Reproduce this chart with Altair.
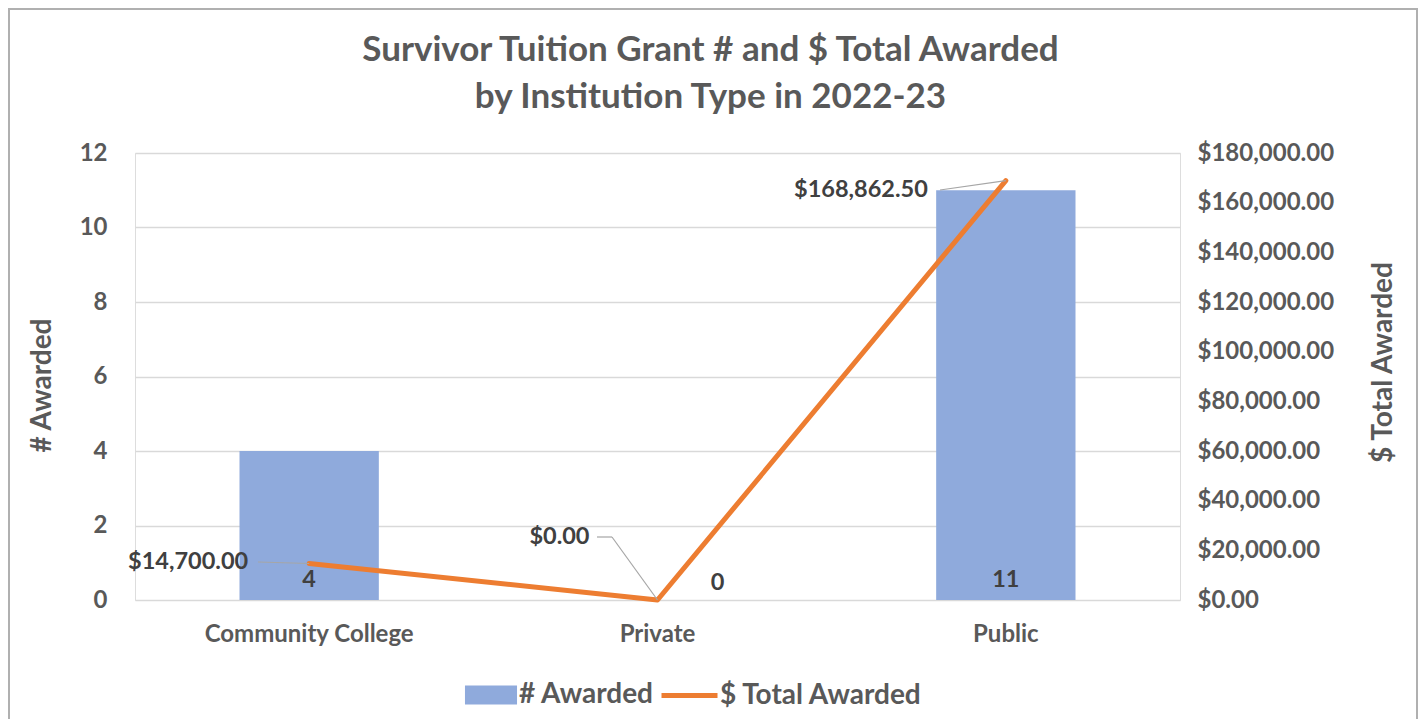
import altair as alt
import pandas as pd

categories = ["Community College", "Private", "Public"]
counts = [4, 0, 11]
totals = [14700.0, 0.0, 168862.5]
count_ticks = [0, 2, 4, 6, 8, 10, 12]
total_ticks = [0, 20000, 40000, 60000, 80000, 100000, 120000, 140000, 160000, 180000]

df = pd.DataFrame({"category": categories, "count": counts, "total": totals})

FONT = "Lato"
GREY = "#595959"
DARK = "#404040"
BAR = "#8FAADC"
LINE = "#ED7D31"
W, H = 1045, 447
TICK_FS = 24
LAB_FS = 23.5

xscale = alt.Scale(paddingInner=0.6, paddingOuter=0.3)
xenc = alt.X("category:N", sort=categories, scale=xscale,
             axis=alt.Axis(title=None, labelFontSize=TICK_FS, labelFont=FONT, labelFontWeight="bold",
                           labelColor=GREY, labelPadding=22, ticks=False, domain=False, labelAngle=0,
                           labelLimit=0))
xplain = alt.X("category:N", sort=categories, scale=xscale, title=None)

yscale_l = alt.Scale(domain=[0, 12])
yscale_r = alt.Scale(domain=[0, 180000])

base = alt.Chart(df)

bars = base.mark_bar(color=BAR).encode(
    x=xenc,
    y=alt.Y("count:Q", scale=yscale_l,
            axis=alt.Axis(title="# Awarded", values=count_ticks, labelFontSize=TICK_FS, labelFont=FONT,
                          labelFontWeight="bold", labelColor=GREY, labelPadding=28, ticks=False,
                          domain=False, gridColor="#D9D9D9", gridWidth=1.5,
                          titleFontSize=28, titleFont=FONT, titleFontWeight="bold", titleColor=GREY,
                          titleAngle=270, titleX=-93, titleY=232, titleBaseline="middle")),
    color=alt.Color("series:N", scale=alt.Scale(domain=["# Awarded"], range=[BAR]),
                    legend=alt.Legend(title=None, orient="none", legendX=337, legendY=523,
                                      symbolType="M-1.37,-0.5H1.37V0.5H-1.37Z", symbolSize=1444,
                                      symbolStrokeWidth=0, labelFontSize=28, labelFont=FONT,
                                      labelFontWeight="bold", labelColor=GREY, labelOffset=9,
                                      labelLimit=0)),
).transform_calculate(series="'# Awarded'")

bar_text = base.mark_text(font=FONT, fontSize=LAB_FS, fontWeight="bold", color=DARK, dy=-20).encode(
    x=xplain, y=alt.datum(0, scale=yscale_l), text=alt.Text("count:Q")
).transform_filter(alt.datum.category != "Private")

bar_text_priv = base.mark_text(font=FONT, fontSize=LAB_FS, fontWeight="bold", color=DARK, dy=-17, dx=60).encode(
    x=xplain, y=alt.datum(0, scale=yscale_l), text=alt.Text("count:Q")
).transform_filter(alt.datum.category == "Private")

left = alt.layer(bars, bar_text, bar_text_priv)

line = base.mark_line(strokeWidth=5, strokeCap="round", strokeJoin="round").encode(
    x=xplain,
    y=alt.Y("total:Q", scale=yscale_r,
            axis=alt.Axis(title="$ Total Awarded", orient="right", values=total_ticks, format="$,.2f",
                          labelFontSize=TICK_FS, labelFont=FONT, labelFontWeight="bold", labelColor=GREY,
                          labelPadding=17, ticks=False, domain=False, grid=False,
                          titleFontSize=28, titleFont=FONT, titleFontWeight="bold", titleColor=GREY,
                          titleAngle=270, titleX=203, titleY=209, titleBaseline="middle")),
    stroke=alt.Stroke("series:N", scale=alt.Scale(domain=["$ Total Awarded"], range=[LINE]),
                      legend=alt.Legend(title=None, orient="none", legendX=524, legendY=512,
                                        symbolType="stroke", symbolSize=3136, symbolStrokeWidth=5,
                                        labelFontSize=28, labelFont=FONT, labelFontWeight="bold",
                                        labelColor=GREY, labelOffset=0, labelLimit=0)),
).transform_calculate(series="'$ Total Awarded'")

ytot = alt.Y("total:Q", scale=yscale_r)

LEAD = "#A6A6A6"
lead_cc = base.mark_rule(color=LEAD, strokeWidth=1.2).encode(
    x=xplain, y=ytot, x2=alt.value(123), y2=alt.value(409)
).transform_filter(alt.datum.category == "Community College")
lead_pv = base.mark_rule(color=LEAD, strokeWidth=1.2).encode(
    x=xplain, y=ytot, x2=alt.value(477), y2=alt.value(384)
).transform_filter(alt.datum.category == "Private")
lead_pv2 = base.mark_rule(color=LEAD, strokeWidth=1.2).encode(
    x=alt.value(462), x2=alt.value(477), y=alt.value(384)
).transform_filter(alt.datum.category == "Private")
lead_pb = base.mark_rule(color=LEAD, strokeWidth=1.2).encode(
    x=xplain, y=ytot, x2=alt.value(805), y2=alt.value(37)
).transform_filter(alt.datum.category == "Public")

def tlabel(cat, dx, dy):
    return base.mark_text(font=FONT, fontSize=LAB_FS, fontWeight="bold", color=DARK, align="right",
                          baseline="middle", dx=dx, dy=dy).encode(
        x=xplain, y=ytot,
        text=alt.Text("total:Q", format="$,.2f")
    ).transform_filter(alt.datum.category == cat)

right = alt.layer(line, lead_cc, lead_pv, lead_pv2, lead_pb,
                  tlabel("Community College", -61, -1),
                  tlabel("Private", -68, -63),
                  tlabel("Public", -78, 9))

frame = alt.Chart(pd.DataFrame({"a": [0]})).mark_rect(fill="transparent", stroke="#B0B0B0", strokeWidth=2).encode(
    x=alt.value(-126), x2=alt.value(1282), y=alt.value(-144), y2=alt.value(600)
)

chart = alt.layer(left, right, frame).resolve_scale(y="independent", color="independent",
                                                    stroke="independent").properties(
    width=W, height=H,
    autosize=alt.AutoSizeParams(type="none"),
    padding={"left": 127, "top": 145, "right": 238, "bottom": 119},
    title=alt.TitleParams(["Survivor Tuition Grant # and $ Total Awarded", "by Institution Type in 2022-23"],
                          font=FONT, fontSize=35, fontWeight="bold", color=GREY, anchor="middle",
                          dx=53, lineHeight=47, offset=0, dy=107),
).configure_view(stroke=None).configure(background="white")

chart.save("out.html", embed_options={"renderer": "svg", "actions": False})
